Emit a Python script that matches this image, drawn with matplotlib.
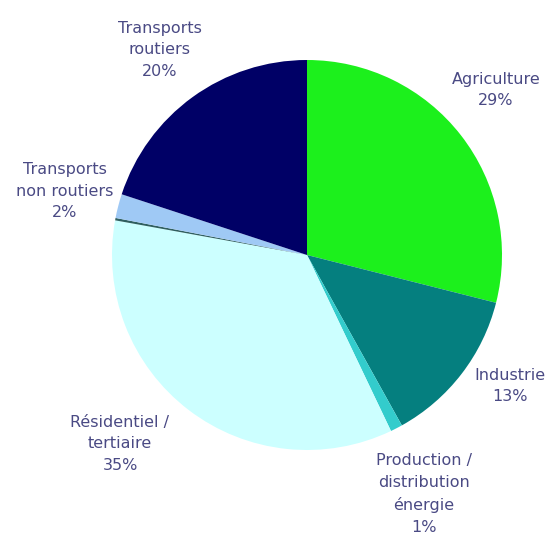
import matplotlib
matplotlib.use("Agg")
import matplotlib.pyplot as plt

# Shares of emissions by sector (%), clockwise from the top
sectors = ["Agriculture", "Industrie", "Production /\ndistribution\nénergie",
           "Résidentiel /\ntertiaire", "", "Transports\nnon routiers",
           "Transports\nroutiers"]
shares = [29, 13, 1, 35, 0.2, 2, 20]
colors = ["#1cf01c", "#057f7f", "#33cccc", "#ccffff", "#2f5f5f", "#9fc9f5", "#000066"]

# label centres in pixel coordinates (x, y from top)
label_pos = [(496, 90), (510, 386), (424, 494), (120, 444), None, (65, 191), (160, 50)]

fig = plt.figure(figsize=(5.49, 5.4), dpi=100)
ax = fig.add_axes([0, 0, 1, 1])

ax.pie(shares, colors=colors, startangle=90, counterclock=False,
       center=(307, 540 - 255), radius=195,
       wedgeprops=dict(linewidth=0))

for name, val, pos in zip(sectors, shares, label_pos):
    if pos is None:
        continue
    ax.text(pos[0], 540 - pos[1], f"{name}\n{val:.0f}%", ha="center", va="center",
            fontsize=11.5, color="#4a4a84", family="DejaVu Sans", linespacing=1.55)

ax.set_xlim(0, 549)
ax.set_ylim(0, 540)
ax.set_aspect("equal")
ax.axis("off")

fig.savefig("out.png", dpi=100, facecolor="white")
